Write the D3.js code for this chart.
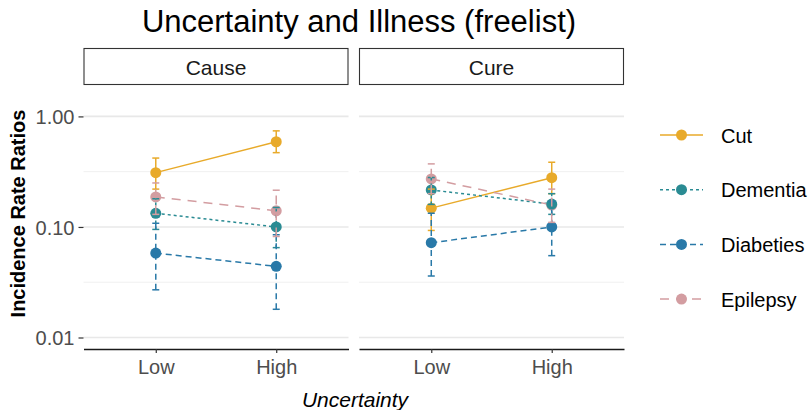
<!DOCTYPE html>
<html><head><meta charset="utf-8">
<script src="https://cdn.jsdelivr.net/npm/d3@7"></script>
<style>body{margin:0;background:#fff}svg{display:block;font-family:"Liberation Sans",Arial,sans-serif}</style>
</head><body><svg id="c" width="810" height="410"></svg>
<script>
const facets = ["Cause", "Cure"];
const levels = ["Low", "High"];
const illnesses = ["Cut", "Dementia", "Diabeties", "Epilepsy"];
const colors = ["#E8AA2A", "#2A8B93", "#2979A8", "#D39DA1"];
const dashes = ["none", "3,3", "6,4", "9,7"];
const yTicks = [0.01, 0.1, 1];
const yTickLabels = ["0.01", "0.10", "1.00"];
// values: [Low, High] per facet
const causeIRR = [[0.31, 0.59], [0.133, 0.10], [0.058, 0.044], [0.187, 0.14]];
const causeLo  = [[0.22, 0.47], [0.095, 0.065], [0.027, 0.018], [0.13, 0.082]];
const causeHi  = [[0.42, 0.74], [0.18, 0.15], [0.108, 0.085], [0.25, 0.215]];
const cureIRR  = [[0.148, 0.279], [0.216, 0.161], [0.072, 0.10], [0.272, 0.158]];
const cureLo   = [[0.093, 0.20], [0.16, 0.13], [0.036, 0.055], [0.20, 0.11]];
const cureHi   = [[0.22, 0.385], [0.28, 0.20], [0.133, 0.17], [0.372, 0.22]];

const svg = d3.select("#c");
const pTop = 89, pBottom = 349;
const panelX = [83.5, 359], panelW = 265;
const y = d3.scaleLog().domain([0.00787, 1.77]).range([pBottom, pTop]);
const data = {Cause: [causeIRR, causeLo, causeHi], Cure: [cureIRR, cureLo, cureHi]};

svg.append("text").attr("x", 359).attr("y", 32).attr("text-anchor", "middle")
  .attr("font-size", 31).attr("fill", "#000").text("Uncertainty and Illness (freelist)");

facets.forEach((f, fi) => {
  const x0 = panelX[fi];
  const x = d3.scalePoint().domain(levels).range([x0, x0 + panelW]).padding(0.6);
  const g = svg.append("g");
  g.append("rect").attr("x", x0 + 0.5).attr("y", 48.5).attr("width", panelW - 1).attr("height", 36)
    .attr("fill", "#fff").attr("stroke", "#333").attr("stroke-width", 1.1);
  g.append("text").attr("x", x0 + panelW / 2).attr("y", 75).attr("text-anchor", "middle")
    .attr("font-size", 21).attr("fill", "#1a1a1a").text(f);
  const minor = [0.01, 0.1, 1].map(v => v * Math.sqrt(10)).filter(v => v < 1.77);
  minor.forEach(v => g.append("line").attr("x1", x0).attr("x2", x0 + panelW)
    .attr("y1", y(v)).attr("y2", y(v)).attr("stroke", "#F0F0F0").attr("stroke-width", 1));
  yTicks.forEach(v => g.append("line").attr("x1", x0).attr("x2", x0 + panelW)
    .attr("y1", y(v)).attr("y2", y(v)).attr("stroke", "#E8E8E8").attr("stroke-width", 1.6));
  const ax = g.append("g").attr("transform", `translate(0,${pBottom})`)
    .call(d3.axisBottom(x).tickSize(4).tickPadding(6).tickSizeOuter(0));
  ax.select(".domain").attr("stroke", "#1a1a1a").attr("stroke-width", 1.6);
  ax.selectAll(".tick line").attr("stroke", "#333").attr("stroke-width", 1.2);
  ax.selectAll(".tick text").attr("font-size", 20).attr("fill", "#4D4D4D")
    .attr("font-family", "Liberation Sans, Arial, sans-serif").attr("y", 25).attr("dy", null);
  const [vals, lo, hi] = data[f];
  const ll = g.append("g"), el = g.append("g"), pl = g.append("g");
  illnesses.forEach((s, si) => {
    const pts = levels.map((l, li) => ({x: x(l), v: vals[si][li], lo: lo[si][li], hi: hi[si][li]}));
    ll.append("path").attr("d", d3.line().x(d => d.x).y(d => y(d.v))(pts))
      .attr("fill", "none").attr("stroke", colors[si]).attr("stroke-width", 1.5)
      .attr("stroke-dasharray", dashes[si]);
    pts.forEach(d => {
      el.append("line").attr("x1", d.x).attr("x2", d.x).attr("y1", y(d.lo)).attr("y2", y(d.hi))
        .attr("stroke", colors[si]).attr("stroke-width", 1.5).attr("stroke-dasharray", dashes[si]);
      [d.lo, d.hi].forEach(v => el.append("line").attr("x1", d.x - 3.5).attr("x2", d.x + 3.5)
        .attr("y1", y(v)).attr("y2", y(v)).attr("stroke", colors[si]).attr("stroke-width", 1.5));
    });
  });
  [3, 0, 2, 1].forEach(si => {
    levels.forEach((l, li) => pl.append("circle").attr("cx", x(l)).attr("cy", y(vals[si][li]))
      .attr("r", 5.5).attr("fill", colors[si]));
  });
  el.raise();
});

const yax = svg.append("g").attr("transform", `translate(83.5,0)`)
  .call(d3.axisLeft(y).tickValues(yTicks).tickFormat((d, i) => yTickLabels[i]).tickSize(5).tickPadding(4));
yax.select(".domain").remove();
yax.selectAll(".tick line").attr("stroke", "#333").attr("stroke-width", 1.2);
yax.selectAll(".tick text").attr("font-size", 20).attr("fill", "#4D4D4D")
  .attr("font-family", "Liberation Sans, Arial, sans-serif").attr("dy", "0.36em");

svg.append("text").attr("transform", "translate(25,213.5) rotate(-90)").attr("text-anchor", "middle")
  .attr("font-size", 20).attr("font-weight", "bold").attr("fill", "#000").text("Incidence Rate Ratios");
svg.append("text").attr("x", 355).attr("y", 407).attr("text-anchor", "middle")
  .attr("font-size", 21).attr("font-style", "italic").attr("fill", "#000").text("Uncertainty");

illnesses.forEach((s, si) => {
  const ly = 135 + si * 54.7;
  const lg = svg.append("g");
  lg.append("line").attr("x1", 660).attr("x2", 703).attr("y1", ly).attr("y2", ly)
    .attr("stroke", colors[si]).attr("stroke-width", 1.5).attr("stroke-dasharray", dashes[si]);
  lg.append("circle").attr("cx", 681.5).attr("cy", ly).attr("r", 5.5).attr("fill", colors[si]);
  lg.append("text").attr("x", 721).attr("y", ly + 7.5).attr("font-size", 20).attr("fill", "#000").text(s);
});
</script></body></html>
